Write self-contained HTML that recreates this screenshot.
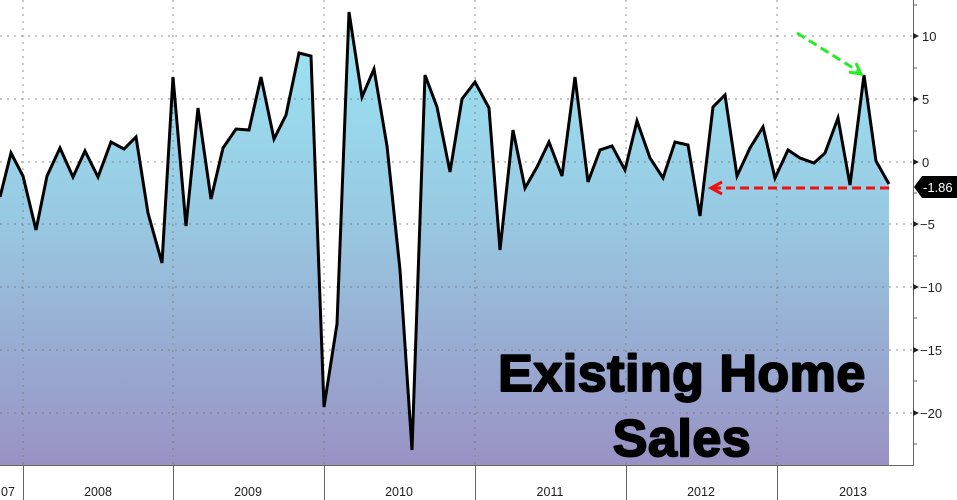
<!DOCTYPE html>
<html><head><meta charset="utf-8"><style>
html,body{margin:0;padding:0;background:#fff;}
svg{display:block;font-family:"Liberation Sans",Arial,sans-serif;}
</style></head><body>
<svg width="957" height="500" viewBox="0 0 957 500" xmlns="http://www.w3.org/2000/svg">
<defs>
<linearGradient id="g" x1="0" y1="0" x2="0" y2="465" gradientUnits="userSpaceOnUse">
<stop offset="0" stop-color="#9de8f7"/>
<stop offset="0.45" stop-color="#98cbe3"/>
<stop offset="1" stop-color="#9992c4"/>
</linearGradient>
</defs>
<rect width="957" height="500" fill="#fff"/>
<polygon fill="url(#g)" points="0,465 0,197 11,153 23,176 36,230 47,176 60,148 73,177 85,151 98,177 111,142 124,149 136,137 148,213 162,263 173,77 186,226 198,108 211,199 223,148 236,129 249,130 261,77 274,139 286,115 299,53 311,56 324,407 337,324 349,12 362,97 374,69 387,146 400,270 412,450 425,75 437,107 450,172 462,99 475,82 489,108 500,250 513,130 525,188 537,167 549,142 562,176 575,77 588,182 600,150 612,146 625,170 637,121 650,158 663,178 675,142 688,145 700,216 713,107 725,95 737,176 750,148 763,127 775,178 788,150 800,158 814,163 825,153 838,118 850,185 864,75 876,161 889,184 889,465"/>
<g stroke="#777" stroke-width="1" stroke-dasharray="2,5" opacity="0.8">
<line x1="0" y1="36" x2="913" y2="36"/><line x1="0" y1="99" x2="913" y2="99"/><line x1="0" y1="162" x2="913" y2="162"/><line x1="0" y1="224" x2="913" y2="224"/><line x1="0" y1="287" x2="913" y2="287"/><line x1="0" y1="350" x2="913" y2="350"/><line x1="0" y1="413" x2="913" y2="413"/>
<line x1="23" y1="0" x2="23" y2="465"/><line x1="173" y1="0" x2="173" y2="465"/><line x1="324" y1="0" x2="324" y2="465"/><line x1="475" y1="0" x2="475" y2="465"/><line x1="626" y1="0" x2="626" y2="465"/><line x1="777" y1="0" x2="777" y2="465"/>
</g>
<polyline fill="none" stroke="#000" stroke-width="3" stroke-linejoin="miter" points="0,197 11,153 23,176 36,230 47,176 60,148 73,177 85,151 98,177 111,142 124,149 136,137 148,213 162,263 173,77 186,226 198,108 211,199 223,148 236,129 249,130 261,77 274,139 286,115 299,53 311,56 324,407 337,324 349,12 362,97 374,69 387,146 400,270 412,450 425,75 437,107 450,172 462,99 475,82 489,108 500,250 513,130 525,188 537,167 549,142 562,176 575,77 588,182 600,150 612,146 625,170 637,121 650,158 663,178 675,142 688,145 700,216 713,107 725,95 737,176 750,148 763,127 775,178 788,150 800,158 814,163 825,153 838,118 850,185 864,75 876,161 889,184"/>
<line x1="0" y1="465.5" x2="914" y2="465.5" stroke="#666" stroke-width="1"/>
<line x1="913.5" y1="0" x2="913.5" y2="466" stroke="#666" stroke-width="1"/>
<g stroke="#666" stroke-width="1">
<line x1="23.5" y1="465" x2="23.5" y2="500"/><line x1="173.5" y1="465" x2="173.5" y2="500"/><line x1="324.5" y1="465" x2="324.5" y2="500"/><line x1="475.5" y1="465" x2="475.5" y2="500"/><line x1="626.5" y1="465" x2="626.5" y2="500"/><line x1="777.5" y1="465" x2="777.5" y2="500"/>
<line x1="913" y1="5" x2="917" y2="5"/><line x1="913" y1="68" x2="917" y2="68"/><line x1="913" y1="131" x2="917" y2="131"/><line x1="913" y1="193" x2="917" y2="193"/><line x1="913" y1="256" x2="917" y2="256"/><line x1="913" y1="318" x2="917" y2="318"/><line x1="913" y1="381" x2="917" y2="381"/><line x1="913" y1="444" x2="917" y2="444"/>
</g>
<g fill="#222">
<polygon points="913,33 919,36 913,39"/><polygon points="913,96 919,99 913,102"/><polygon points="913,159 919,162 913,165"/><polygon points="913,221 919,224 913,227"/><polygon points="913,284 919,287 913,290"/><polygon points="913,347 919,350 913,353"/><polygon points="913,410 919,413 913,416"/>
</g>
<g font-size="13" fill="#222">
<text x="922" y="41">10</text><text x="922" y="104">5</text><text x="922" y="167">0</text><text x="920" y="229">−5</text><text x="920" y="292">−10</text><text x="920" y="355">−15</text><text x="920" y="418">−20</text>
</g>
<g font-size="12.5" fill="#222" text-anchor="middle">
<text x="8" y="496">07</text><text x="98" y="496">2008</text><text x="248" y="496">2009</text><text x="399" y="496">2010</text><text x="550" y="496">2011</text><text x="701" y="496">2012</text><text x="853" y="496">2013</text>
</g>
<polygon points="914,187 922,176 957,176 957,198 922,198" fill="#000"/>
<text x="923" y="192" font-size="13" fill="#fff">-1.86</text>
<line x1="889" y1="188" x2="714" y2="188" stroke="#f01010" stroke-width="3" stroke-dasharray="9,5"/>
<polyline points="722,182 711,188 722,194" fill="none" stroke="#f01010" stroke-width="3"/>
<line x1="797" y1="33" x2="858" y2="71" stroke="#22ee22" stroke-width="3" stroke-dasharray="9,5"/>
<polyline points="849,72 861,74 856,63" fill="none" stroke="#22ee22" stroke-width="3"/>
<g font-size="52" font-weight="bold" fill="#000" stroke="#000" stroke-width="2" stroke-linejoin="round" text-anchor="middle" letter-spacing="0.5">
<text x="682" y="391">Existing Home</text>
<text x="682" y="456">Sales</text>
</g>
</svg>
</body></html>
